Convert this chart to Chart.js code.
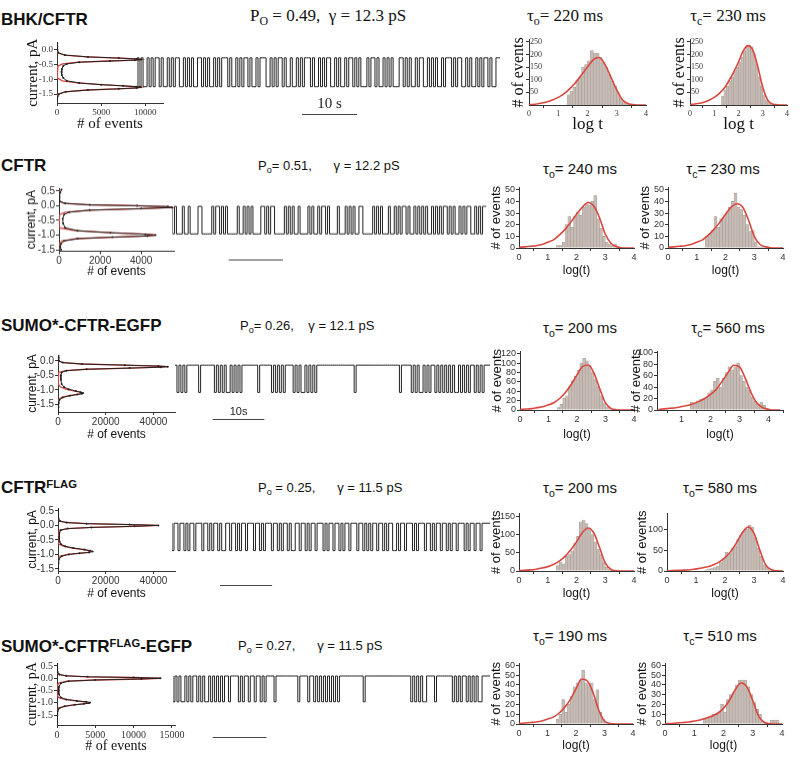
<!DOCTYPE html>
<html>
<head>
<meta charset="utf-8">
<script src="https://cdn.jsdelivr.net/npm/chart.js@4.4.1/dist/chart.umd.min.js"></script>
<style>
  body { margin:0; width:800px; height:762px; position:relative; background:#fff; overflow:hidden; }
  .t { position:absolute; white-space:pre; color:#111; line-height:1; }
  .c { transform:translateX(-50%); }
  .h { font:bold 17px "Liberation Sans", Arial, sans-serif; }
  .s { font:13px "Liberation Sans", Arial, sans-serif; }
  .s2 { font:15px "Liberation Sans", Arial, sans-serif; }
  .r { font:17px "Liberation Serif", "Times New Roman", serif; }
  sub { font-size:70%; vertical-align:-0.35em; }
  sup { font-size:66%; vertical-align:0.45em; }
  .w { position:absolute; }
</style>
</head>
<body>
<div class="t h" style="left:1px;top:10px">BHK/CFTR</div>
<div class="t r" style="left:250px;top:6px">P<sub>O</sub> = 0.49,  γ = 12.3 pS</div>
<div class="t r c" style="left:565px;top:6px">τ<sub>o</sub>= 220 ms</div>
<div class="t r c" style="left:728px;top:6px">τ<sub>c</sub>= 230 ms</div>

<div class="t h" style="left:1px;top:156px">CFTR</div>
<div class="t s" style="left:258px;top:158px">P<sub>o</sub>= 0.51,      γ = 12.2 pS</div>
<div class="t s2 c" style="left:580px;top:160px">τ<sub>o</sub>= 240 ms</div>
<div class="t s2 c" style="left:723px;top:160px">τ<sub>c</sub>= 230 ms</div>

<div class="t h" style="left:1px;top:316px">SUMO*-CFTR-EGFP</div>
<div class="t s" style="left:240px;top:318px">P<sub>o</sub>= 0.26,    γ = 12.1 pS</div>
<div class="t s2 c" style="left:580px;top:319px">τ<sub>o</sub>= 200 ms</div>
<div class="t s2 c" style="left:728px;top:319px">τ<sub>c</sub>= 560 ms</div>

<div class="t h" style="left:1px;top:478px">CFTR<sup>FLAG</sup></div>
<div class="t s" style="left:258px;top:480px">P<sub>o</sub> = 0.25,      γ = 11.5 pS</div>
<div class="t s2 c" style="left:580px;top:479px">τ<sub>o</sub>= 200 ms</div>
<div class="t s2 c" style="left:720px;top:479px">τ<sub>o</sub>= 580 ms</div>

<div class="t h" style="left:1px;top:637px">SUMO*-CFTR<sup>FLAG</sup>-EGFP</div>
<div class="t s" style="left:238px;top:638px">P<sub>o</sub> = 0.27,      γ = 11.5 pS</div>
<div class="t s2 c" style="left:570px;top:627px">τ<sub>o</sub>= 190 ms</div>
<div class="t s2 c" style="left:720px;top:627px">τ<sub>c</sub>= 510 ms</div>

<script>
// ---- amplitude histograms: current (pA), counts, gaussian fit ----
const r1AmpI = [0.2,0.1,0.0,-0.1,-0.18,-0.24,-0.28,-0.31,-0.33,-0.35,-0.38,-0.42,-0.48,-0.55,-0.65,-0.75,-0.85,-0.95,-1.05,-1.12,-1.18,-1.22,-1.25,-1.27,-1.29,-1.32,-1.36,-1.42,-1.5,-1.6,-1.7];
const r1AmpN = [20,40,60,150,900,3500,7000,9000,9500,8800,6000,2500,1100,700,550,500,550,700,1100,2500,5000,7500,9000,9500,9000,7000,3500,1000,200,60,20];
const r1AmpFit = [0,0,5,100,900,3400,7000,9100,9500,8900,6000,2400,600,100,10,0,10,100,600,2300,5000,7500,9100,9500,9100,7000,3400,900,100,5,0];

const r2AmpI = [0.55,0.45,0.3,0.15,0.08,0.03,0.0,-0.03,-0.06,-0.1,-0.15,-0.22,-0.3,-0.45,-0.6,-0.75,-0.85,-0.92,-0.97,-1.0,-1.03,-1.07,-1.12,-1.2,-1.3,-1.4,-1.5];
const r2AmpN = [120,60,20,30,300,1500,3800,5300,5500,4000,1500,500,250,180,200,300,900,2500,4200,4700,4300,2600,900,250,100,60,100];
const r2AmpFit = [0,0,0,5,250,1500,3800,5300,5500,4000,1500,300,30,0,0,20,800,2500,4200,4700,4300,2600,900,150,10,0,0];

const r3AmpI = [0.2,0.1,0.0,-0.06,-0.11,-0.15,-0.18,-0.2,-0.22,-0.25,-0.29,-0.34,-0.4,-0.5,-0.65,-0.8,-0.9,-0.98,-1.04,-1.08,-1.11,-1.13,-1.16,-1.2,-1.26,-1.34,-1.45,-1.6,-1.75];
const r3AmpN = [100,200,400,2000,10000,28000,42000,46000,43000,30000,12000,3500,1500,1200,1200,1500,2500,4500,7500,9500,10500,10000,8000,5000,2000,600,300,200,100];
const r3AmpFit = [0,0,100,2000,10000,28000,42000,46000,43000,30000,12000,3000,300,0,0,100,1000,3500,7000,9200,10000,9600,7500,4500,1500,200,0,0,0];

const r4AmpI = [0.6,0.4,0.25,0.15,0.1,0.06,0.03,0.0,-0.03,-0.07,-0.11,-0.16,-0.25,-0.4,-0.55,-0.65,-0.72,-0.78,-0.83,-0.87,-0.9,-0.93,-0.96,-1.0,-1.06,-1.15,-1.3,-1.5];
const r4AmpN = [50,100,200,800,3500,12000,30000,42000,32000,14000,4000,1200,600,500,700,1300,3000,6500,11000,13500,14500,13000,9000,4500,1500,500,200,100];
const r4AmpFit = [0,0,50,800,3500,12000,30000,42000,32000,14000,4000,800,50,0,20,500,2500,6000,10500,12800,13200,12600,8500,4000,1000,100,0,0];

const r5AmpI = [0.6,0.4,0.25,0.15,0.1,0.06,0.03,0.0,-0.03,-0.07,-0.12,-0.2,-0.35,-0.5,-0.65,-0.78,-0.86,-0.92,-0.96,-0.99,-1.01,-1.04,-1.08,-1.14,-1.22,-1.32,-1.5,-1.8];
const r5AmpN = [20,40,80,300,1200,4000,10000,13500,11000,5000,1500,500,250,200,250,500,1200,2600,3800,4300,4200,3500,2300,1000,300,100,40,20];
const r5AmpFit = [0,0,20,300,1200,4000,10000,13500,11000,5000,1300,200,10,0,5,200,1000,2500,3700,4200,4100,3400,2200,900,200,20,0,0];

// ---- single channel records: "-" closed, "_" open ----
const r1Trace =
  "_-_-__-_-_--_-__-_-_--__-_-_-__--_-_-__-_-_---_-__-_-_--_-__-_---__-_-_--_-__-__" +
  "-_-_---_-__-_-_--__-_-__-_--_-_-___-_--_-__-_-_-___--_-_-__-_--__-_-_-__-_---_-_" +
  "--__-_-__-_-_--_-__-";
const r2Trace =
  "-_-___-__-____--_____-_--_-_-_____-__-_-_-____--_-_--_____-_-_-__-____-_-__-_--_" +
  "-____-___-_-_-__--_____-_-_-___-__-_-_--_-__-_-_-_-__-_-_-_--_-_-__-_-_--__-_-_-";
const r3Trace =
  "--_-_-_------_-------_-_-_-__-_-_-_-----" + "---_------_-_-_-_----_-_-__-_-_-_-------" +
  "------------_----------------------_----" + "-_-_-__-_-_--_-_-_-_-_-__-_-_-_--_-_-_--";
const r4Trace =
  "-_--_--_-_--_---_--_-_--_-__--_--_-_--_---_--_-_---_--_-_--_-__--_--_-_--_---_-_" +
  "--_--_-_--_---_--_-_-_--_--_-_--__-_--_---_-_---_--_-_--_--_-_--_---_-_--_--_---";
const r5Trace =
  "-_-_-__-_-_--_-_-__-_-_-_-_--_----_-_--_--_--_-_----_-----------_----_--_-_-_-_-_" +
  "-_-_------------_-----------------------_-_-_-__----_--------_-_-_--_-_-_-__---";
const traceLevels = [[-0.33,-1.27],[-0.08,-0.98],[-0.23,-1.12],[0.0,-0.9],[0.0,-1.0]]; // pA closed, open
const traceSeconds = [66,58,61,61,59];
const scaleBarStart = [30,10.4,7.3,9.2,7.4];
const scaleBarLabel = ["10 s","","10s","",""];

// ---- dwell time histograms, log(t / ms) ----
const binCenters = [1.35,1.45,1.55,1.65,1.75,1.85,1.95,2.05,2.15,2.25,2.35,2.45,2.55,2.65,2.75,2.85,2.95,3.05,3.15,3.25,3.35,3.45,3.55,3.65,3.75,3.85,3.95];
const fitLogT = [0,0.2,0.4,0.6,0.8,1,1.2,1.4,1.6,1.8,2,2.2,2.4,2.6,2.8,3,3.2,3.4,3.6,3.8,4];
const fitLogTWide = [0.2,0.4,0.6,0.8,1,1.2,1.4,1.6,1.8,2,2.2,2.4,2.6,2.8,3,3.2,3.4,3.6,3.8,4,4.2,4.4];

const r1Open = [40,55,70,100,110,150,160,175,215,205,205,190,170,150,120,95,75,45,25,10,5,2,0,0,0,0,0];
const r1OpenFit = [1,3,7,12,20,30,45,65,90,120,150,180,188,160,110,60,20,5,1,0,0];
const r1Closed = [35,60,75,95,110,135,150,170,190,215,235,235,230,200,160,110,75,40,20,10,5,3,1,0,0,0,0];
const r1ClosedFit = [2,4,7,12,20,30,45,65,95,130,170,215,235,215,150,70,20,4,1,0,0];

const r2Open = [2,2,5,20,27,18,27,31,28,35,38,37,40,45,25,17,10,5,3,2,3,1,0,0,0,0,0];
const r2OpenFit = [0.5,1,1.5,2,3,5,7,11,16,22,29,35,39,36,26,12,4,1,0,0,0];
const r2Closed = [10,12,15,27,18,25,26,30,35,40,47,35,33,28,20,14,15,5,1,1,0.5,1,0,0,0,0,0];
const r2ClosedFit = [0.5,1,1.5,2,3,5,7,11,16,22,29,35,38,35,24,10,3,1,0,0,0];

const r3Open = [5,12,25,30,50,62,72,85,100,110,105,95,80,65,50,30,15,7,3,1,0,0,0,0,0,0,0];
const r3OpenFit = [1,2,3,5,7,11,16,25,38,55,75,93,96,78,45,15,3,0.5,0,0,0];
const r3Closed = [14,12,16,18,20,22,30,35,50,55,40,55,65,75,70,75,82,60,50,40,35,22,15,10,14,8,3];
const r3ClosedFit = [1,2,3,4,6,8,11,15,20,27,36,50,65,78,75,55,30,12,4,1,0,0];

const r4Open = [15,25,20,40,45,55,75,95,135,140,130,115,100,80,60,45,25,10,5,2,0,0,0,0,0,0,0];
const r4OpenFit = [1,2,3,5,8,12,18,27,40,58,80,105,118,105,65,22,4,0.5,0,0,0];
const r4Closed = [3,5,6,8,12,20,30,45,42,55,60,75,85,95,100,110,105,80,55,35,15,8,3,1,0,0,0];
const r4ClosedFit = [0.5,1,1.5,2,3,5,7,10,15,22,32,47,68,92,105,90,50,15,3,0.5,0];

const r5Open = [5,10,25,12,20,28,38,42,45,55,42,40,42,25,35,12,5,2,0,0,0,0,0,0,0,0,0];
const r5OpenFit = [0.5,1,1.5,2,3,5,7,11,17,25,36,46,44,32,14,3,0.5,0,0,0,0];
const r5Closed = [5,7,8,10,10,12,20,12,25,30,32,40,45,45,45,38,30,22,15,10,3,2,1,4,4,4,0];
const r5ClosedFit = [0.3,0.5,1,1.5,2,3,4,6,8,11,16,24,35,42,38,24,8,1.5,0.3,0,0];

// ---- tick labels ----
const currentTicks = [0.5,0,-0.5,-1,-1.5];
const currentTicksNoTop = [0,-0.5,-1,-1.5];
const logTicks = [0,1,2,3,4];

const SERIF = '"Liberation Serif","Times New Roman",serif';
const SANS = '"Liberation Sans",Arial,sans-serif';
const RED = '#d9473f';

Chart.defaults.animation = false;
Chart.defaults.plugins.legend.display = false;
Chart.defaults.plugins.tooltip.enabled = false;

const scaleBar = {
  id: 'scaleBar',
  afterDraw(chart, args, o) {
    if (!o || o.len == null) return;
    const xs = chart.scales.x, a = chart.chartArea, ctx = chart.ctx;
    const x0 = xs.getPixelForValue(o.start), x1 = xs.getPixelForValue(o.start + o.len);
    const y = a.bottom + o.dy;
    ctx.save();
    ctx.strokeStyle = '#444'; ctx.lineWidth = 1;
    ctx.beginPath(); ctx.moveTo(x0, y + 0.5); ctx.lineTo(x1, y + 0.5); ctx.stroke();
    if (o.label) {
      ctx.font = o.font; ctx.fillStyle = '#222';
      ctx.textAlign = 'center'; ctx.textBaseline = 'bottom';
      ctx.fillText(o.label, (x0 + x1) / 2, y - 2);
    }
    ctx.restore();
  }
};
Chart.register(scaleBar);

// plot = [left, top, right, bottom] of the chart area, pad = [axisW, top, right, axisH]
function mount(plot, pad) {
  const d = document.createElement('div');
  d.className = 'w';
  d.style.left = (plot[0] - pad[0]) + 'px';
  d.style.top = (plot[1] - pad[1]) + 'px';
  d.style.width = (plot[2] - plot[0] + pad[0] + pad[2]) + 'px';
  d.style.height = (plot[3] - plot[1] + pad[1] + pad[3]) + 'px';
  const c = document.createElement('canvas');
  d.appendChild(c);
  document.body.appendChild(d);
  return c;
}

function axis(pos, min, max, ticks, fmt, fam, size, title, tsize, fit, mirror) {
  return {
    type: 'linear', position: pos, min, max, offset: false,
    afterBuildTicks: s => { s.ticks = ticks.map(v => ({ value: v })); },
    afterFit: s => { if (pos === 'left') s.width = fit; else s.height = fit; },
    border: { display: true, color: '#333', width: 1 },
    grid: { display: true, drawOnChartArea: false, drawTicks: true, tickLength: 3, color: '#333' },
    ticks: { autoSkip: false, maxRotation: 0, padding: 1, mirror: !!mirror, color: '#333',
             font: { family: fam, size }, callback: fmt },
    title: { display: true, text: title, color: '#111', padding: 0, font: { family: fam, size: tsize } }
  };
}

const fmtI = v => v.toFixed(1);
const fmtN = v => String(v);

function ampChart(p) {
  const c = mount(p.plot, p.pad);
  new Chart(c, {
    type: 'scatter',
    data: { datasets: [
      { data: p.I.map((v, i) => ({ x: p.N[i], y: v })), showLine: true, borderColor: '#222',
        borderWidth: 1, pointRadius: 1, pointBackgroundColor: '#222', pointBorderWidth: 0 },
      { data: p.I.map((v, i) => ({ x: p.F[i], y: v })), showLine: true, borderColor: RED,
        borderWidth: 1.3, pointRadius: 0 }
    ]},
    options: {
      responsive: true, maintainAspectRatio: false,
      layout: { padding: { left: 0, top: p.pad[1], right: p.pad[2], bottom: 0 } },
      scales: {
        x: axis('bottom', 0, p.xmax, p.xt, fmtN, p.fam, p.fs, '# of events', p.ts, p.pad[3]),
        y: axis('left', p.yr[0], p.yr[1], p.yt, fmtI, p.fam, p.fs, 'current, pA', p.ts, p.pad[0])
      }
    }
  });
}

function traceChart(p) {
  const c = mount(p.plot, [0, 0, 0, p.padB]);
  const n = p.s.length, pts = [];
  for (let i = 0; i < n; i++) pts.push({ x: i * p.dur / n, y: p.s[i] === '-' ? p.lv[0] : p.lv[1] });
  pts.push({ x: p.dur, y: pts[n - 1].y });
  new Chart(c, {
    type: 'line',
    data: { datasets: [{ data: pts, stepped: 'after', borderColor: '#222', borderWidth: 1, pointRadius: 0 }] },
    options: {
      responsive: true, maintainAspectRatio: false,
      layout: { padding: { left: 0, top: 0, right: 0, bottom: p.padB } },
      scales: {
        x: { type: 'linear', display: false, min: 0, max: p.dur },
        y: { type: 'linear', display: false, min: p.yr[0], max: p.yr[1] }
      },
      plugins: { scaleBar: { start: p.sb, len: 10, dy: p.dy, label: p.lab, font: p.font } }
    }
  });
}

function dwellChart(p) {
  const c = mount(p.plot, p.pad);
  new Chart(c, {
    type: 'bar',
    data: { datasets: [
      { type: 'line', data: p.fx.map((x, i) => ({ x, y: p.fit[i] })), borderColor: RED, borderWidth: 1.6,
        pointRadius: 0, cubicInterpolationMode: 'monotone', order: 1 },
      { type: 'bar', data: binCenters.map((b, i) => ({ x: b, y: p.bars[i] })), backgroundColor: '#c6bcb5',
        borderColor: '#a39992', borderWidth: 0.5, barPercentage: 1, categoryPercentage: 1, order: 2 }
    ]},
    options: {
      responsive: true, maintainAspectRatio: false,
      layout: { padding: { left: 0, top: p.pad[1], right: p.pad[2], bottom: 0 } },
      scales: {
        x: axis('bottom', p.xr[0], p.xr[1], p.xt, fmtN, p.fam, p.fs, p.xlab, p.xts, p.pad[3]),
        y: axis('left', 0, p.ymax, p.yt, fmtN, p.fam, p.fs, '# of events', p.yts, p.pad[0], p.mirror)
      }
    }
  });
}

// ---- row 1: BHK/CFTR ----
ampChart({ plot: [57, 40, 163, 103], pad: [33, 4, 14, 30], I: r1AmpI, N: r1AmpN, F: r1AmpFit,
  xmax: 12000, xt: [0, 5000, 10000], yr: [-1.8, 0.25], yt: currentTicksNoTop, fam: SERIF, fs: 9, ts: 15 });
traceChart({ plot: [137, 40, 500, 103], padB: 16, s: r1Trace, dur: traceSeconds[0], lv: traceLevels[0],
  yr: [-1.8, 0.25], sb: scaleBarStart[0], dy: 11, lab: scaleBarLabel[0], font: '15px ' + SERIF });
dwellChart({ plot: [529, 37, 646, 105], pad: [20, 3, 8, 30], bars: r1Open, fx: fitLogT, fit: r1OpenFit,
  xr: [0, 4], xt: logTicks, ymax: 258, yt: [50, 100, 150, 200, 250], fam: SERIF, fs: 8, xlab: 'log t', xts: 17, yts: 16, mirror: true });
dwellChart({ plot: [690, 37, 787, 105], pad: [20, 3, 8, 30], bars: r1Closed, fx: fitLogT, fit: r1ClosedFit,
  xr: [0, 4], xt: logTicks, ymax: 258, yt: [50, 100, 150, 200, 250], fam: SERIF, fs: 8, xlab: 'log t', xts: 17, yts: 16, mirror: true });

// ---- row 2: CFTR ----
ampChart({ plot: [59, 185, 174, 250.5], pad: [35, 4, 14, 27], I: r2AmpI, N: r2AmpN, F: r2AmpFit,
  xmax: 5600, xt: [0, 2000, 4000], yr: [-1.55, 0.6], yt: currentTicks, fam: SANS, fs: 10, ts: 12 });
traceChart({ plot: [172, 185, 487, 250.5], padB: 12, s: r2Trace, dur: traceSeconds[1], lv: traceLevels[1],
  yr: [-1.55, 0.6], sb: scaleBarStart[1], dy: 8, lab: scaleBarLabel[1], font: '11px ' + SANS });
dwellChart({ plot: [519, 185, 634, 248], pad: [30, 4, 8, 30], bars: r2Open, fx: fitLogT, fit: r2OpenFit,
  xr: [0, 4], xt: logTicks, ymax: 52, yt: [0, 10, 20, 30, 40, 50], fam: SANS, fs: 9, xlab: 'log(t)', xts: 12, yts: 13 });
dwellChart({ plot: [668, 185, 783, 248], pad: [30, 4, 8, 30], bars: r2Closed, fx: fitLogT, fit: r2ClosedFit,
  xr: [0, 4], xt: logTicks, ymax: 52, yt: [0, 10, 20, 30, 40, 50], fam: SANS, fs: 9, xlab: 'log(t)', xts: 12, yts: 13 });

// ---- row 3: SUMO*-CFTR-EGFP ----
ampChart({ plot: [58, 352, 175, 412], pad: [33, 4, 14, 30], I: r3AmpI, N: r3AmpN, F: r3AmpFit,
  xmax: 49000, xt: [0, 20000, 40000], yr: [-1.76, 0.2], yt: currentTicksNoTop, fam: SANS, fs: 10, ts: 12 });
traceChart({ plot: [175, 352, 490, 412], padB: 12, s: r3Trace, dur: traceSeconds[2], lv: traceLevels[2],
  yr: [-1.76, 0.2], sb: scaleBarStart[2], dy: 7, lab: scaleBarLabel[2], font: '11px ' + SANS });
dwellChart({ plot: [520, 349, 634, 410], pad: [30, 4, 8, 32], bars: r3Open, fx: fitLogT, fit: r3OpenFit,
  xr: [0, 4], xt: logTicks, ymax: 125, yt: [0, 20, 40, 60, 80, 100, 120], fam: SANS, fs: 9, xlab: 'log(t)', xts: 12, yts: 13 });
dwellChart({ plot: [657, 349, 783, 410], pad: [28, 4, 8, 32], bars: r3Closed, fx: fitLogTWide, fit: r3ClosedFit,
  xr: [0.15, 4.5], xt: [1, 2, 3, 4], ymax: 102, yt: [0, 20, 40, 60, 80, 100], fam: SANS, fs: 9, xlab: 'log(t)', xts: 12, yts: 13 });

// ---- row 4: CFTR-FLAG ----
ampChart({ plot: [58, 505, 175, 571], pad: [33, 4, 14, 30], I: r4AmpI, N: r4AmpN, F: r4AmpFit,
  xmax: 49000, xt: [0, 20000, 40000], yr: [-1.57, 0.6], yt: currentTicks, fam: SANS, fs: 10, ts: 12 });
traceChart({ plot: [172, 505, 490, 571], padB: 18, s: r4Trace, dur: traceSeconds[3], lv: traceLevels[3],
  yr: [-1.57, 0.6], sb: scaleBarStart[3], dy: 14, lab: scaleBarLabel[3], font: '11px ' + SANS });
dwellChart({ plot: [519, 511, 634, 571], pad: [30, 4, 8, 30], bars: r4Open, fx: fitLogT, fit: r4OpenFit,
  xr: [0, 4], xt: logTicks, ymax: 158, yt: [0, 50, 100, 150], fam: SANS, fs: 9, xlab: 'log(t)', xts: 12, yts: 13 });
dwellChart({ plot: [667, 511, 783, 571], pad: [32, 4, 8, 30], bars: r4Closed, fx: fitLogT, fit: r4ClosedFit,
  xr: [0, 4], xt: logTicks, ymax: 138, yt: [0, 50, 100], fam: SANS, fs: 9, xlab: 'log(t)', xts: 12, yts: 13 });

// ---- row 5: SUMO*-CFTR-FLAG-EGFP ----
ampChart({ plot: [57, 660, 175, 725], pad: [33, 4, 14, 30], I: r5AmpI, N: r5AmpN, F: r5AmpFit,
  xmax: 15400, xt: [0, 5000, 10000, 15000], yr: [-1.9, 0.62], yt: currentTicks, fam: SERIF, fs: 10, ts: 14 });
traceChart({ plot: [173, 660, 490, 725], padB: 16, s: r5Trace, dur: traceSeconds[4], lv: traceLevels[4],
  yr: [-1.9, 0.62], sb: scaleBarStart[4], dy: 12, lab: scaleBarLabel[4], font: '11px ' + SANS });
dwellChart({ plot: [519, 661, 633, 724], pad: [30, 4, 8, 29], bars: r5Open, fx: fitLogT, fit: r5OpenFit,
  xr: [0, 4], xt: logTicks, ymax: 62, yt: [0, 10, 20, 30, 40, 50, 60], fam: SANS, fs: 9, xlab: 'log(t)', xts: 12, yts: 13 });
dwellChart({ plot: [665, 661, 782, 724], pad: [30, 4, 8, 29], bars: r5Closed, fx: fitLogT, fit: r5ClosedFit,
  xr: [0, 4], xt: logTicks, ymax: 62, yt: [0, 10, 20, 30, 40, 50, 60], fam: SANS, fs: 9, xlab: 'log(t)', xts: 12, yts: 13 });
</script>
</body>
</html>
